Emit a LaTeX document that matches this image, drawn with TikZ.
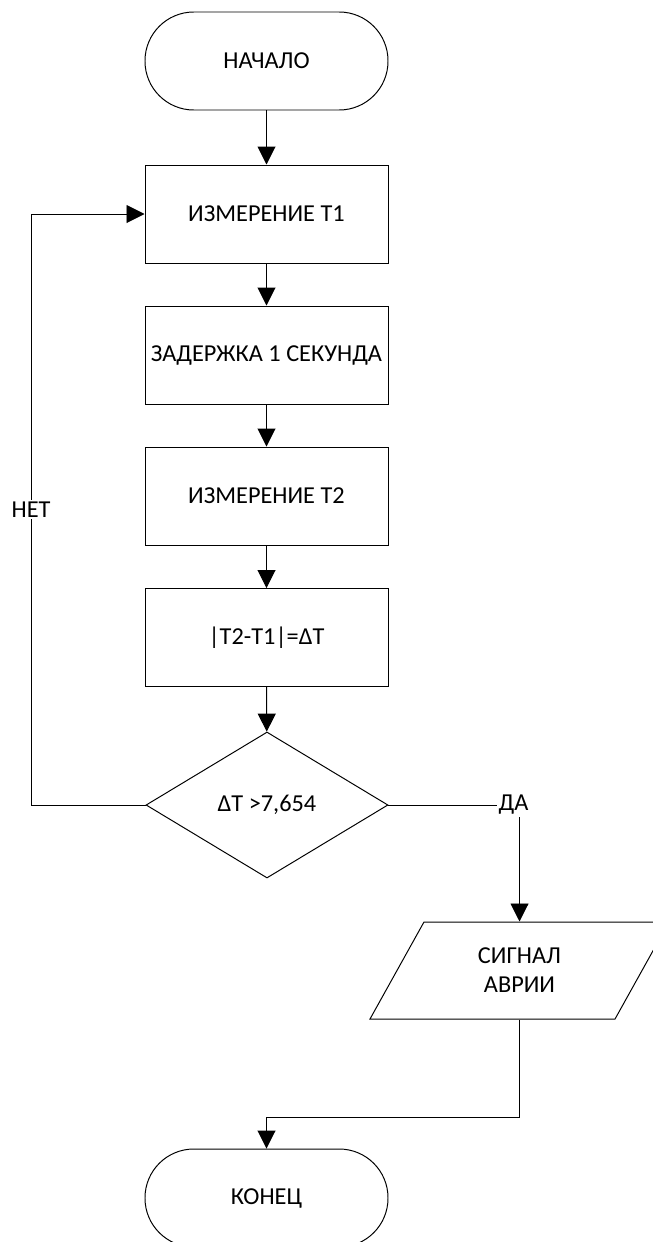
\documentclass[tikz,border=0pt]{standalone}
\usepackage{fontspec}
\setmainfont{Carlito}
\usetikzlibrary{arrows.meta,shapes.geometric}

\begin{document}
\begin{tikzpicture}[x=0.25mm,y=-0.25mm,line width=0.7pt,
  font=\fontsize{17.3}{20.5}\selectfont,
  term/.style={draw,rectangle,rounded corners=12.2mm,minimum width=60.75mm,minimum height=24.5mm},
  proc/.style={draw,rectangle,minimum width=60.75mm,minimum height=24.5mm},
  decision/.style={draw,diamond,minimum width=60.5mm,minimum height=36.5mm,inner sep=0pt},
  io/.style={draw,trapezium,trapezium left angle=45,trapezium right angle=135,
    trapezium stretches body,minimum width=74.75mm,minimum height=24.25mm,align=center},
  arr/.style={-{Triangle[length=4.5mm,width=4.5mm]}},
  lbl/.style={fill=white,inner sep=1.5pt}]
 \useasboundingbox (0,0) rectangle (652,1242);
 %NODES
 \node[term] (start) at (266.5,61) {НАЧАЛО};
 \node[proc] (meas1) at (266.5,214) {ИЗМЕРЕНИЕ Т1};
 \node[proc] (delay) at (266.5,355) {ЗАДЕРЖКА 1 СЕКУНДА};
 \node[proc] (meas2) at (266.5,496) {ИЗМЕРЕНИЕ Т2};
 \node[proc] (diff) at (266.5,637.5) {|T2-T1|=ΔT};
 \node[decision] (check) at (267,805) {ΔT >7,654};
 \node[io] (signal) at (519.5,970.5) {СИГНАЛ\\АВРИИ};
 \node[term] (stop) at (266.5,1198) {КОНЕЦ};
 \coordinate (back) at (31,214);
 \coordinate (turn) at (266.5,1117);
 %EDGES
 \draw[arr] (start) -- (meas1);
 \draw[arr] (meas1) -- (delay);
 \draw[arr] (delay) -- (meas2);
 \draw[arr] (meas2) -- (diff);
 \draw[arr] (diff) -- (check);
 \draw[arr] (check.west) -| node[lbl,pos=0.75]{НЕТ} (back) -- (meas1.west);
 \draw[arr] (check.east) -| node[lbl,xshift=-1.5mm]{ДА} (signal.north);
 \draw[arr] (signal.south) |- (turn) -- (stop.north);
\end{tikzpicture}
\end{document}
